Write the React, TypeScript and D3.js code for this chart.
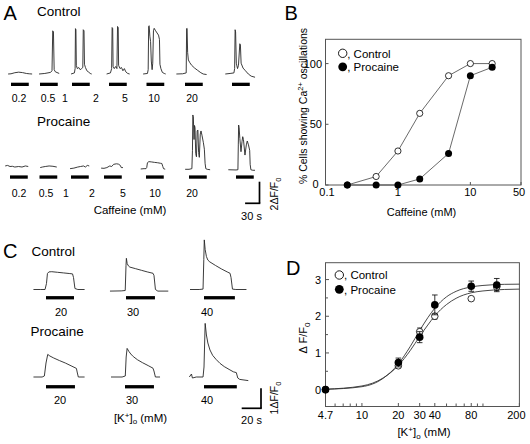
import React from 'react';
import * as d3 from 'd3';

type Pt = [number, number];

// ---------------- Panel A: caffeine responses (t: s from caffeine onset, v: ΔF/F0) ----------------
const caffeineLabels = ['0.2', '0.5', '1', '2', '5', '10', '20'];
const caffeineBarSec = 37;
const tracesAControl: Pt[][] = [
  [[-6, 0], [0, 0.02], [8, 0.12], [16, 0.17], [24, 0.13], [32, 0.05], [38, 0.02], [44, 0]],
  [[-2, 0], [10, 0.05], [22, 0.15], [25, 0.3], [26.5, 4.0], [28, 3.9], [29.5, 0.4], [32, 0.2], [40, 0.05]],
  [[-2, 0], [5, 0.1], [6.5, 0.5], [7.2, 4.2], [8.2, 4.1], [9, 0.8], [11, 0.5], [14, 0.6], [17, 0.4], [20, 0.5], [22.5, 0.6], [23.5, 4.1], [25, 4.0], [26, 0.9], [28, 0.6], [31, 0.3], [34, 0.2], [38, 0.05], [41, 0]],
  [[-5, 0], [3, 0.1], [5.5, 0.5], [6.5, 4.3], [7.7, 4.2], [8.5, 0.7], [11, 0.5], [14, 0.7], [16.5, 0.5], [17.8, 4.4], [19.2, 4.3], [20, 0.8], [23, 0.5], [26, 0.6], [29, 0.3], [32, 0.5], [35, 0.2], [39, 0.05], [43, 0]],
  [[-7, 0], [2, 0.05], [3.5, 0.4], [4.5, 4.4], [5.5, 4.47], [7, 3.5], [8.5, 3.0], [10, 1.2], [11.7, 0.4], [13, 1.0], [14.5, 4.0], [16, 4.23], [19, 4.0], [22, 3.8], [25, 3.6], [27, 3.2], [28, 0.9], [30, 0.5], [33, 0.15], [37, 0.05], [40, 0]],
  [[-18, 0], [-5, 0.02], [2.5, 0.1], [3.4, 4.2], [4.3, 4.23], [5.5, 2.0], [7, 1.3], [10, 1.05], [14, 0.8], [20, 0.55], [26, 0.35], [33, 0.12], [38, 0], [45, -0.05]],
  [[-14, 0], [-4, 0.05], [4, 0.1], [5.5, 0.5], [6.5, 4.1], [7.5, 3.9], [9, 1.0], [11.5, 0.5], [13.5, 0.8], [16.3, 2.8], [17.5, 2.7], [19, 1.0], [23, 0.55], [28, 0.3], [34, 0.0], [40, -0.2], [48, -0.3]],
];
const tracesAProcaine: Pt[][] = [
  [[-10, 0.05], [-5, 0.1], [0, 0], [5, 0.02], [10, -0.05], [18, 0.0], [25, -0.05], [32, 0.05], [38, 0.0]],
  [[1.5, -0.1], [6, -0.05], [12, 0], [20, 0.05], [28, 0.02], [36, -0.05]],
  [[-2, -0.2], [6, -0.15], [14, -0.05], [20, 0], [26, 0.05], [30, -0.05], [34, 0.1], [38, 0.05]],
  [[-6, -0.15], [0, -0.17], [6, -0.1], [12, 0.05], [16, 0.0], [20, 0.2], [26, 0.25], [30, 0.22], [34, 0.1], [36, -0.1], [39.5, -0.1]],
  [[-11, -0.23], [-4, -0.2], [0, -0.2], [1.5, -0.1], [3, 0.35], [6, 0.45], [12, 0.42], [18, 0.38], [24, 0.35], [30, 0.3], [33, 0.28], [35, 0.0], [36.5, -0.2], [40, -0.25]],
  [[-8, -0.26], [0, -0.26], [6, -0.2], [7.2, 1.5], [8, 4.77], [9, 4.6], [10.5, 2.5], [11.5, 3.8], [12.5, 3.6], [14, 1.2], [15.5, 0.9], [17, 3.3], [18.5, 3.38], [20, 1.3], [21.5, 0.85], [23.5, 3.0], [25, 3.29], [27, 2.9], [30, 2.2], [32, 1.6], [33.5, 0.3], [35, -0.2], [38, -0.26], [44, -0.3]],
  [[-16, -0.3], [0, -0.32], [4, -0.3], [4.8, 2.0], [5.5, 3.84], [6.5, 3.6], [8, 2.6], [10.4, 1.37], [12.5, 2.3], [14, 2.76], [15.5, 2.5], [18.7, 1.06], [21.5, 2.0], [23.5, 2.36], [26, 2.0], [28.5, 1.5], [29.5, 0.2], [31, -0.3], [35, -0.35], [39.6, -0.35]],
];

// ---------------- Panel B: % cells oscillating vs caffeine ----------------
const caffeineConc = [0.2, 0.5, 1, 2, 5, 10, 20];
const pctControl = [0, 7, 28, 59, 90, 100, 100];
const pctProcaine = [0, 0, 0, 5, 26, 90, 97];
const bXTicks = [0.1, 1, 10, 50];
const bYTicks = [0, 50, 100];

// ---------------- Panel C: high-K+ responses ----------------
const kLabels = ['20', '30', '40'];
const kBarSecControl = [29, 30, 32];
const kBarSecProcaine = [30, 30, 34];
const tracesCControl: Pt[][] = [
  [[-13, 0], [-6, 0], [-1, 0], [0.5, 0.3], [1.5, 0.8], [3, 0.88], [6, 0.89], [12, 0.86], [18, 0.83], [24, 0.8], [27.5, 0.78], [28.5, 0.6], [30, 0.05], [33, 0], [40, 0]],
  [[-16.6, -0.08], [-5, -0.07], [-0.8, -0.05], [0, 1.2], [0.4, 1.56], [1.2, 1.3], [2.5, 1.18], [4, 1.12], [10, 1.04], [16, 0.96], [22, 0.88], [28, 0.81], [29, 0.7], [30.5, 0.0], [33, -0.08], [43.8, -0.08]],
  [[-14.5, 0], [-5, 0], [-1, 0.02], [-0.2, 1.5], [0.3, 2.48], [1.2, 2.0], [2.5, 1.65], [4, 1.47], [6, 1.38], [12, 1.2], [18, 1.03], [24, 0.88], [27, 0.81], [28, 0.6], [29.5, 0.02], [33, 0], [44, 0]],
];
const tracesCProcaine: Pt[][] = [
  [[-13, 0], [-4, 0], [-1.7, 0.05], [0, 0.7], [1.8, 1.13], [4, 1.05], [8, 0.95], [14, 0.82], [20, 0.7], [26, 0.56], [31.5, 0.43], [32.5, 0.2], [33.5, 0], [40, 0]],
  [[-14.5, 0], [-3, 0], [0.3, 0.05], [1.2, 1.0], [2.2, 1.43], [4, 1.28], [6, 1.15], [8.6, 1.02], [13, 0.86], [18, 0.72], [24, 0.57], [29, 0.44], [30, 0.3], [31.5, 0.0], [36.3, 0]],
  [[-15.2, 0], [-13, 0.15], [-12, -0.05], [-8, 0], [-1, 0], [0, 0.5], [1.2, 2.68], [2.5, 2.1], [4, 1.7], [6.2, 1.35], [9, 1.08], [12.5, 0.88], [16.6, 0.68], [21, 0.52], [26, 0.38], [30.4, 0.26], [33.5, 0.22], [35, -0.05], [37, -0.12], [45.9, -0.18]],
];

// ---------------- Panel D: ΔF/F0 vs [K+]o ----------------
const kConc = [4.7, 20, 30, 40, 80, 130];
const dfControl = [0, 0.65, 1.58, 2.0, 2.48, 2.8];
const dfControlErr = [0, 0.05, 0.1, 0.08, 0.05, 0.1];
const dfProcaine = [0, 0.74, 1.43, 2.31, 2.82, 2.85];
const dfProcaineErr = [0, 0.12, 0.15, 0.27, 0.14, 0.18];
const fitK = [5, 10, 15, 20, 25, 30, 35, 40, 50, 60, 80, 100, 150, 200];
const fitControl = [0.012, 0.1, 0.32, 0.66, 1.06, 1.45, 1.76, 2.01, 2.32, 2.49, 2.64, 2.69, 2.73, 2.74];
const fitProcaine = [0.008, 0.08, 0.31, 0.7, 1.17, 1.61, 1.96, 2.22, 2.53, 2.68, 2.8, 2.84, 2.87, 2.875];
const dXTickVals = [5, 10, 20, 30, 40, 80, 200];
const dXTickText = ['4.7', '10', '20', '30', '40', '80', '200'];
const dXMinor = [6, 7, 8, 9, 50, 60, 70, 90, 100];
const dYTicks = [0, 1, 2, 3];
const dYMinor = [-0.5, 0.5, 1.5, 2.5];

// ---------------- layout ----------------
const FONT = '"Liberation Sans", Arial, Helvetica, sans-serif';
const aOriginsControl = [11, 40, 72, 109, 146.5, 185, 232];
const aOriginsProcaine = [10, 39.5, 71, 104, 146, 189, 236];
const aLabelXControl = [19, 48, 65, 96, 125, 154, 192];
const aLabelXProcaine = [19, 46, 66, 92, 123, 155, 192];
const cOriginsControl = [46, 126, 204];
const cOriginsProcaine = [46, 125, 204];
const cLabelXControl = [61, 133, 207];
const cLabelXProcaine = [60, 132, 207];

const TRACE = '#262626';

function Trace({ data, x0, y0, sx, sy, barSec, barDy }: { data: Pt[]; x0: number; y0: number; sx: d3.ScaleLinear<number, number>; sy: d3.ScaleLinear<number, number>; barSec: number; barDy: number }) {
  const line = d3.line<Pt>().x((d) => sx(d[0])).y((d) => sy(d[1]));
  return (
    <g transform={`translate(${x0},${y0})`}>
      <path d={line(data) || ''} fill="none" stroke={TRACE} strokeWidth={0.9} strokeLinejoin="round" />
      <rect x={sx(0)} y={barDy - 1.6} width={sx(barSec) - sx(0)} height={3.3} fill="#000" />
    </g>
  );
}

export default function App() {
  // Panel A scales (30 s / 2 ΔF/F0 scale bar)
  const aSec = d3.scaleLinear().domain([0, 30]).range([0, 14.4]);
  const aAmp = d3.scaleLinear().domain([0, 2]).range([0, -21.6]);
  // Panel C scales (20 s / 1 ΔF/F0)
  const cSec = d3.scaleLinear().domain([0, 20]).range([0, 19.3]);
  const cAmp = d3.scaleLinear().domain([0, 1]).range([0, -20]);

  // Panel B
  const xB = d3.scaleLog().domain([0.1, 50]).range([325.5, 521]);
  const yB = d3.scaleLinear().domain([0, 120]).range([185, 39.3]);
  const ctrlB = d3.line<number>().x((_, i) => xB(caffeineConc[i])).y((d) => yB(d))(pctControl) || '';
  const procB = d3.line<number>().x((_, i) => xB(caffeineConc[i])).y((d) => yB(d))(pctProcaine) || '';

  // Panel D
  const xD = d3.scaleLog().domain([5, 200]).range([325.5, 519.4]).clamp(true);
  const yD = d3.scaleLinear().domain([-0.46, 3.46]).range([406.5, 262.7]);
  const fitLine = (vals: number[]) =>
    d3.line<number>().x((_, i) => xD(fitK[i])).y((d) => yD(d)).curve(d3.curveMonotoneX)(vals) || '';

  const txt = { fontFamily: FONT, fill: '#000' } as const;

  return (
    <svg width={530} height={444} style={{ position: 'absolute', left: 0, top: 0, background: '#fff' }}>
      <rect width={530} height={444} fill="#fff" />

      {/* ===== Panel A ===== */}
      <text x={3.5} y={19.5} fontSize={20} {...txt}>A</text>
      <text x={37} y={16} fontSize={13.5} {...txt}>Control</text>
      {tracesAControl.map((d, i) => (
        <Trace key={'ac' + i} data={d} x0={aOriginsControl[i]} y0={74} sx={aSec} sy={aAmp} barSec={caffeineBarSec} barDy={10.3} />
      ))}
      {caffeineLabels.map((l, i) => (
        <text key={'acl' + i} x={aLabelXControl[i]} y={102} fontSize={10.5} textAnchor="middle" {...txt}>{l}</text>
      ))}
      <text x={37} y={125.5} fontSize={13.5} {...txt}>Procaine</text>
      {tracesAProcaine.map((d, i) => (
        <Trace key={'ap' + i} data={d} x0={aOriginsProcaine[i]} y0={166.5} sx={aSec} sy={aAmp} barSec={caffeineBarSec} barDy={10.5} />
      ))}
      {caffeineLabels.map((l, i) => (
        <text key={'apl' + i} x={aLabelXProcaine[i]} y={197} fontSize={10.5} textAnchor="middle" {...txt}>{l}</text>
      ))}
      <text x={130} y={214} fontSize={11.5} textAnchor="middle" {...txt}>Caffeine (mM)</text>
      {/* scale bar A */}
      <g>
        <line x1={259.5 - aSec(30)} x2={260.3} y1={203.3} y2={203.3} stroke="#000" strokeWidth={1.7} />
        <line x1={259.5} x2={259.5} y1={203.3 + aAmp(2)} y2={203.3} stroke="#000" strokeWidth={1.7} />
        <text x={251.5} y={219.5} fontSize={11} textAnchor="middle" {...txt}>30 s</text>
        <text transform="translate(278,194) rotate(-90)" fontSize={10.5} textAnchor="middle" {...txt}>
          2ΔF/F<tspan fontSize={7.5} dy={2.5}>0</tspan>
        </text>
      </g>

      {/* ===== Panel B ===== */}
      <text x={284.5} y={19.5} fontSize={20} {...txt}>B</text>
      <rect x={325.5} y={39.3} width={521 - 325.5} height={185 - 39.3} fill="none" stroke="#555" strokeWidth={1} />
      {bYTicks.map((t) => (
        <g key={'by' + t}>
          <line x1={325.5} x2={328.5} y1={yB(t)} y2={yB(t)} stroke="#555" />
          <text x={t === 0 ? 318.5 : 322} y={yB(t) + (t === 0 ? 3 : 4)} fontSize={11} textAnchor="end" {...txt}>{t}</text>
        </g>
      ))}
      {bXTicks.map((t) => (
        <g key={'bx' + t}>
          <line x1={xB(t)} x2={xB(t)} y1={185} y2={182} stroke="#555" />
          <text x={xB(t) + (t === 50 ? -2 : t === 0.1 ? 1.5 : 0)} y={196} fontSize={11} textAnchor="middle" {...txt}>{t}</text>
        </g>
      ))}
      <text transform="translate(307,106) rotate(-90)" fontSize={10.5} textAnchor="middle" {...txt}>
        % Cells showing Ca<tspan fontSize={7.5} dy={-4}>2+</tspan><tspan dy={4}> oscillations</tspan>
      </text>
      <text x={421.5} y={216} fontSize={11} textAnchor="middle" {...txt}>Caffeine (mM)</text>
      <path d={ctrlB} fill="none" stroke="#444" strokeWidth={0.8} />
      <path d={procB} fill="none" stroke="#444" strokeWidth={0.8} />
      {pctControl.map((v, i) => (
        <circle key={'bc' + i} cx={xB(caffeineConc[i])} cy={yB(v)} r={3.1} fill="#fff" stroke="#000" strokeWidth={0.8} />
      ))}
      {pctProcaine.map((v, i) => (
        <circle key={'bp' + i} cx={xB(caffeineConc[i])} cy={yB(v)} r={3.5} fill="#000" />
      ))}
      <circle cx={342.7} cy={53.3} r={4.2} fill="#fff" stroke="#000" strokeWidth={0.9} />
      <text x={347.2} y={57.5} fontSize={11.5} {...txt}>, Control</text>
      <circle cx={342.7} cy={66.8} r={4.4} fill="#000" />
      <text x={347.2} y={71} fontSize={11.5} {...txt}>, Procaine</text>

      {/* ===== Panel C ===== */}
      <text x={3} y={258} fontSize={20} {...txt}>C</text>
      <text x={31.5} y={256} fontSize={13.5} {...txt}>Control</text>
      {tracesCControl.map((d, i) => (
        <Trace key={'cc' + i} data={d} x0={cOriginsControl[i]} y0={289.5} sx={cSec} sy={cAmp} barSec={kBarSecControl[i]} barDy={8.2} />
      ))}
      {kLabels.map((l, i) => (
        <text key={'ccl' + i} x={cLabelXControl[i]} y={315.5} fontSize={11} textAnchor="middle" {...txt}>{l}</text>
      ))}
      <text x={30.5} y={336} fontSize={13.5} {...txt}>Procaine</text>
      {tracesCProcaine.map((d, i) => (
        <Trace key={'cp' + i} data={d} x0={cOriginsProcaine[i]} y0={377} sx={cSec} sy={cAmp} barSec={kBarSecProcaine[i]} barDy={9.7} />
      ))}
      {kLabels.map((l, i) => (
        <text key={'cpl' + i} x={cLabelXProcaine[i]} y={403.5} fontSize={11} textAnchor="middle" {...txt}>{l}</text>
      ))}
      <text x={140.5} y={421.5} fontSize={11.5} textAnchor="middle" {...txt}>
        [K<tspan fontSize={8} dy={-4}>+</tspan><tspan dy={4}>]</tspan><tspan fontSize={8} dy={2.5}>o</tspan><tspan dy={-2.5}> (mM)</tspan>
      </text>
      <g>
        <line x1={261 - cSec(20)} x2={261.8} y1={408.3} y2={408.3} stroke="#000" strokeWidth={1.7} />
        <line x1={261} x2={261} y1={408.3 + cAmp(1)} y2={408.3} stroke="#000" strokeWidth={1.7} />
        <text x={251.5} y={423.5} fontSize={11} textAnchor="middle" {...txt}>20 s</text>
        <text transform="translate(278,398) rotate(-90)" fontSize={10.5} textAnchor="middle" {...txt}>
          1ΔF/F<tspan fontSize={7.5} dy={2.5}>0</tspan>
        </text>
      </g>

      {/* ===== Panel D ===== */}
      <text x={286} y={274.5} fontSize={20} {...txt}>D</text>
      <rect x={325.5} y={262.7} width={519.4 - 325.5} height={406.5 - 262.7} fill="none" stroke="#555" strokeWidth={1} />
      {dYTicks.map((t) => (
        <g key={'dy' + t}>
          <line x1={325.5} x2={329} y1={yD(t)} y2={yD(t)} stroke="#555" />
          <text x={321} y={yD(t) + 4} fontSize={11} textAnchor="end" {...txt}>{t}</text>
        </g>
      ))}
      {dYMinor.filter((t) => yD(t) < 406).map((t) => (
        <line key={'dym' + t} x1={325.5} x2={328} y1={yD(t)} y2={yD(t)} stroke="#555" />
      ))}
      {dXTickVals.map((t, i) => (
        <g key={'dx' + t}>
          <line x1={xD(t)} x2={xD(t)} y1={406.5} y2={403} stroke="#555" />
          <text x={xD(t) + (t === 200 ? -3 : 0)} y={419} fontSize={11} textAnchor="middle" {...txt}>{dXTickText[i]}</text>
        </g>
      ))}
      {dXMinor.map((t) => (
        <line key={'dxm' + t} x1={xD(t)} x2={xD(t)} y1={406.5} y2={403.5} stroke="#555" />
      ))}
      <text transform="translate(307,338) rotate(-90)" fontSize={11} textAnchor="middle" {...txt}>
        Δ F/F<tspan fontSize={8} dy={2.5}>0</tspan>
      </text>
      <text x={424} y={436} fontSize={11.5} textAnchor="middle" {...txt}>
        [K<tspan fontSize={8} dy={-4}>+</tspan><tspan dy={4}>]</tspan><tspan fontSize={8} dy={2.5}>o</tspan><tspan dy={-2.5}> (mM)</tspan>
      </text>
      <path d={fitLine(fitControl)} fill="none" stroke="#333" strokeWidth={0.9} />
      <path d={fitLine(fitProcaine)} fill="none" stroke="#333" strokeWidth={0.9} />
      {dfControl.map((v, i) => (
        <g key={'dc' + i}>
          {dfControlErr[i] > 0 && (
            <g stroke="#000" strokeWidth={0.8}>
              <line x1={xD(kConc[i])} x2={xD(kConc[i])} y1={yD(v - dfControlErr[i])} y2={yD(v + dfControlErr[i])} />
              <line x1={xD(kConc[i]) - 2.5} x2={xD(kConc[i]) + 2.5} y1={yD(v + dfControlErr[i])} y2={yD(v + dfControlErr[i])} />
              <line x1={xD(kConc[i]) - 2.5} x2={xD(kConc[i]) + 2.5} y1={yD(v - dfControlErr[i])} y2={yD(v - dfControlErr[i])} />
            </g>
          )}
          <circle cx={xD(kConc[i])} cy={yD(v)} r={3.3} fill="#fff" stroke="#000" strokeWidth={0.8} />
        </g>
      ))}
      {dfProcaine.map((v, i) => (
        <g key={'dp' + i}>
          {dfProcaineErr[i] > 0 && (
            <g stroke="#000" strokeWidth={0.8}>
              <line x1={xD(kConc[i])} x2={xD(kConc[i])} y1={yD(v - dfProcaineErr[i])} y2={yD(v + dfProcaineErr[i])} />
              <line x1={xD(kConc[i]) - 2.8} x2={xD(kConc[i]) + 2.8} y1={yD(v + dfProcaineErr[i])} y2={yD(v + dfProcaineErr[i])} />
              <line x1={xD(kConc[i]) - 2.8} x2={xD(kConc[i]) + 2.8} y1={yD(v - dfProcaineErr[i])} y2={yD(v - dfProcaineErr[i])} />
            </g>
          )}
          <circle cx={xD(kConc[i])} cy={yD(v)} r={3.8} fill="#000" />
        </g>
      ))}
      <circle cx={339.3} cy={275} r={4.2} fill="#fff" stroke="#000" strokeWidth={0.9} />
      <text x={344} y={279.2} fontSize={11.5} {...txt}>, Control</text>
      <circle cx={339.3} cy={289.3} r={4.4} fill="#000" />
      <text x={344} y={293.5} fontSize={11.5} {...txt}>, Procaine</text>
    </svg>
  );
}
